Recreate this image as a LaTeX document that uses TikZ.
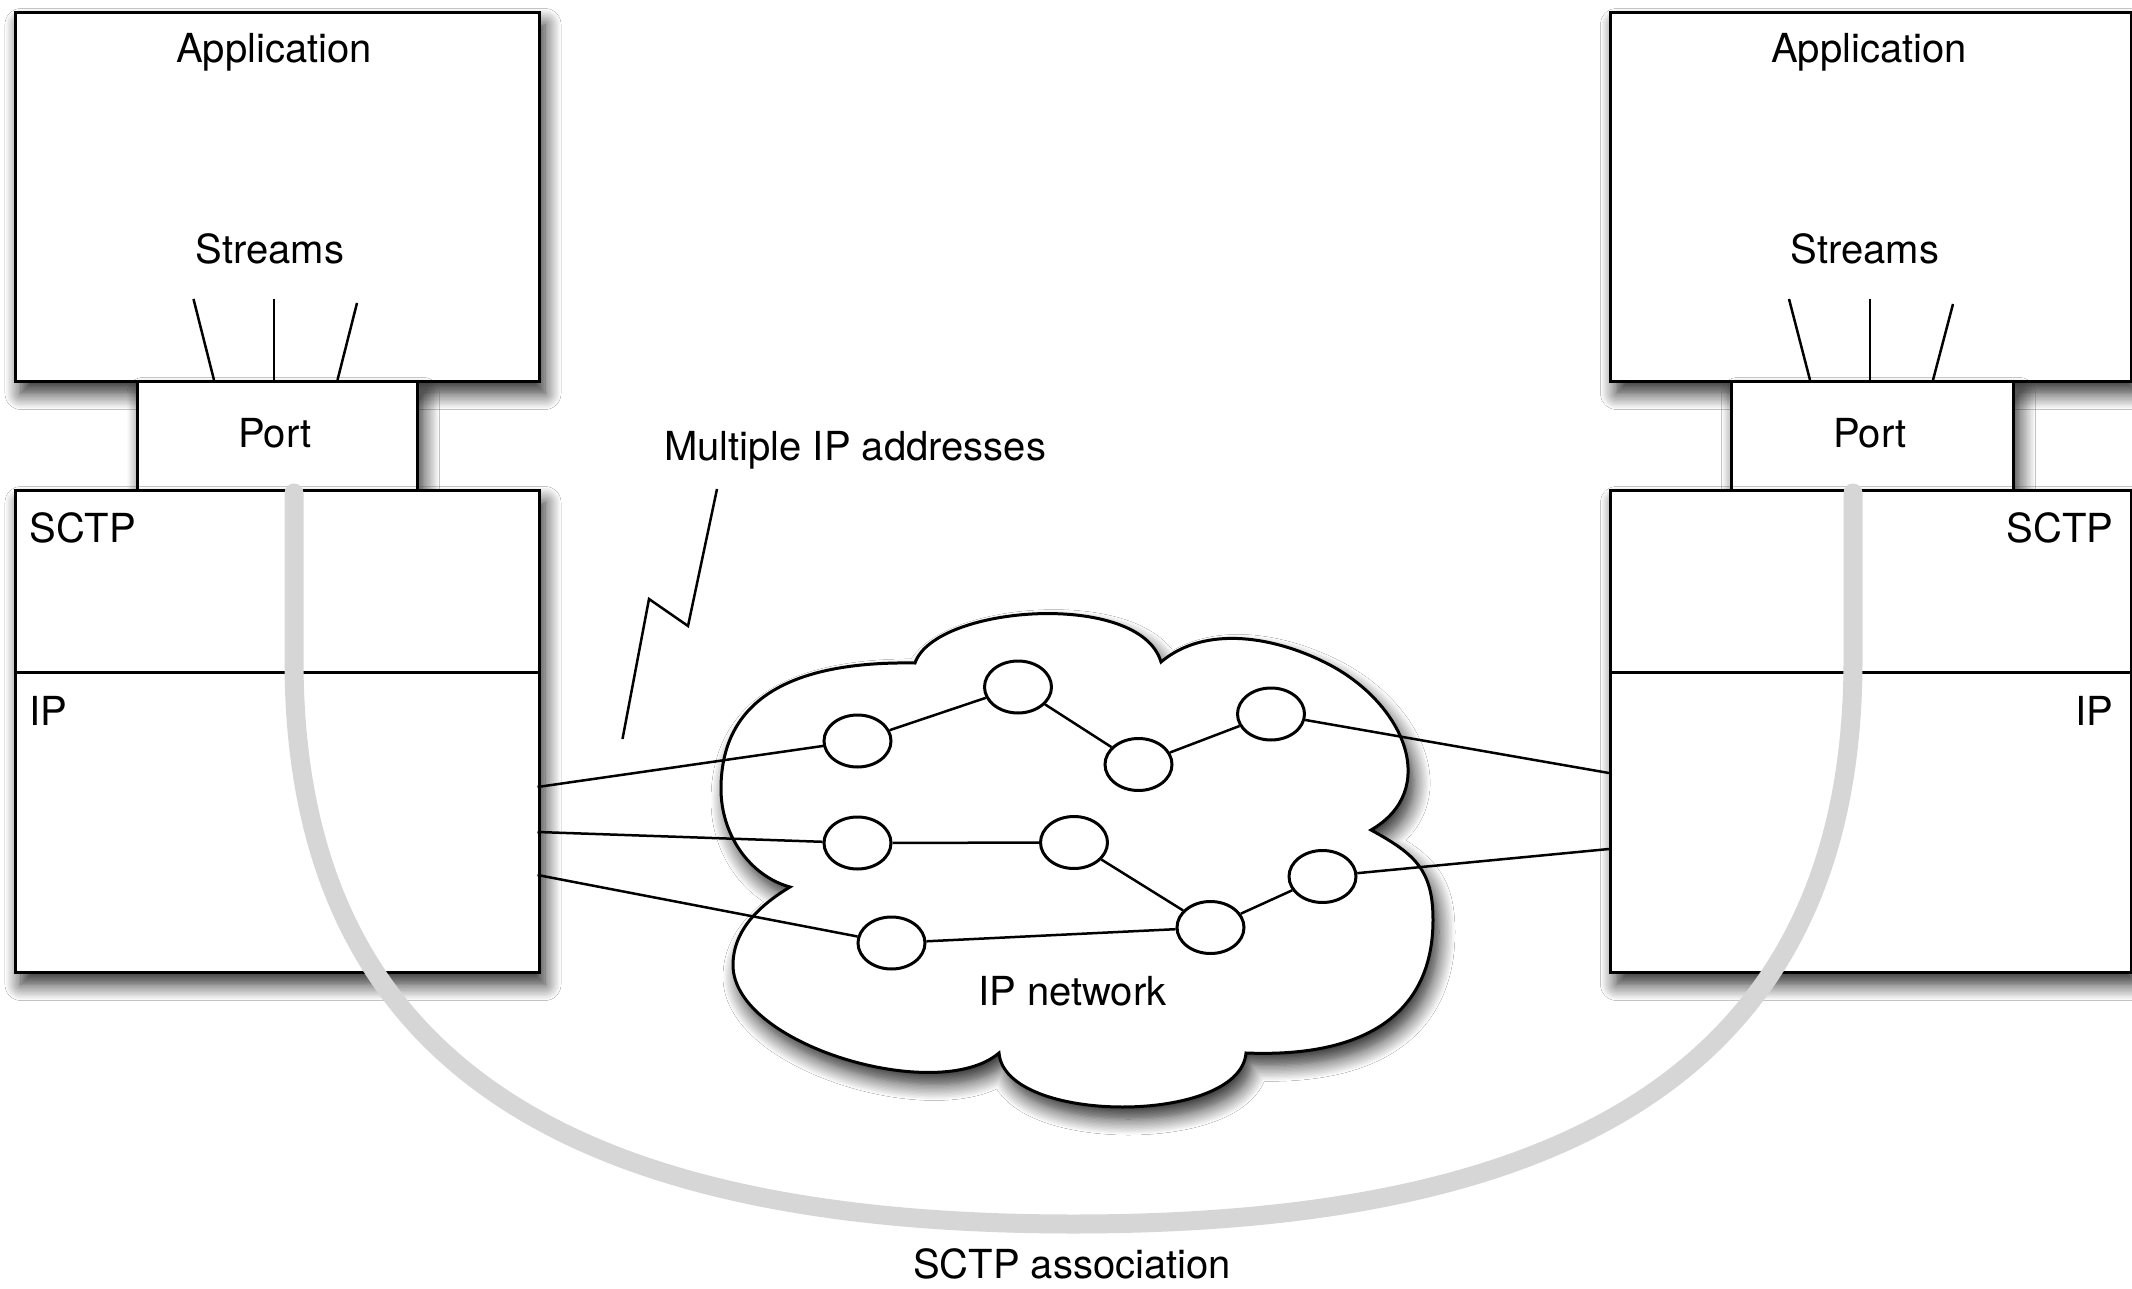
\documentclass[tikz,border=0pt]{standalone}
\usepackage{fontspec}
\setmainfont{TeX Gyre Heros}
\usetikzlibrary{shapes.geometric,shadows.blur}
\definecolor{assocgray}{HTML}{D6D6D6}
\tikzset{
  dropshadow/.style={blur shadow={shadow xshift=3pt, shadow yshift=-6pt,
      shadow blur radius=8pt, shadow opacity=85, shadow blur steps=12}},
  layer/.style={draw=black, fill=white, line width=1.5pt, inner sep=0pt,
      anchor=north west, dropshadow},
  router/.style={ellipse, draw=black, fill=white, line width=1.5pt,
      minimum width=33.5pt, minimum height=26pt, inner sep=0pt},
  link/.style={line width=1.25pt},
  lbl/.style={inner sep=0pt, font=\fontsize{20pt}{24pt}\selectfont},
  assoc/.style={draw=assocgray, line width=9.5pt, line cap=round},
}
\begin{document}
\begin{tikzpicture}[x=0.5pt, y=-0.5pt]
\useasboundingbox (0,0) rectangle (2132,1289);
\fill[white] (0,0) rectangle (2132,1289);

% ---------- left host ----------
\node[layer, minimum width=262pt, minimum height=184.5pt] (lapp) at (13.5,11) {};
\node[layer, minimum width=140.25pt, minimum height=54.5pt] (lport) at (135.5,380) {};
\node[layer, minimum width=262pt, minimum height=241pt] (lstack) at (13.5,489) {};
\draw[line width=1.5pt] (13.5,672.5) -- (537.5,672.5);

% ---------- right host ----------
\node[layer, minimum width=260.5pt, minimum height=184.5pt] (rapp) at (1609,11) {};
\node[layer, minimum width=141pt, minimum height=54.5pt] (rport) at (1730,380) {};
\node[layer, minimum width=260.5pt, minimum height=241pt] (rstack) at (1609,489) {};
\draw[line width=1.5pt] (1609,672.5) -- (2130,672.5);

% ---------- streams ----------
\coordinate (ls1a) at (193.5,299); \coordinate (ls1b) at (214,380);
\coordinate (ls2a) at (274,299);   \coordinate (ls2b) at (274,380);
\coordinate (ls3a) at (357,303);   \coordinate (ls3b) at (337.5,380);
\coordinate (rs1a) at (1789,299);  \coordinate (rs1b) at (1810,380);
\coordinate (rs2a) at (1870,299);  \coordinate (rs2b) at (1870,380);
\coordinate (rs3a) at (1953,304);  \coordinate (rs3b) at (1933,380);
\foreach \s in {ls1,ls2,ls3,rs1,rs2,rs3}
  \draw[link] (\s a) -- (\s b);

% ---------- IP network cloud ----------
\path[draw=black, fill=white, line width=1.5pt, dropshadow]
  (915,663)
  .. controls (935,605) and (1140,590) .. (1161,662)
  .. controls (1206,624) and (1277,637) .. (1330,665)
  .. controls (1405,705) and (1440,790) .. (1371,830)
  .. controls (1415,854) and (1433,870) .. (1433,920)
  .. controls (1433,1010) and (1370,1058) .. (1246,1053)
  .. controls (1240,1125) and (1005,1125) .. (999,1053)
  .. controls (938,1105) and (733,1045) .. (733,965)
  .. controls (733,930) and (760,905) .. (790,887)
  .. controls (750,876) and (721,835) .. (721,789)
  .. controls (721,700) and (790,661) .. (915,663)
  -- cycle;

% routers
\node[router] (A) at (857.5,741) {};
\node[router] (B) at (1018,687) {};
\node[router] (F) at (1138.5,764.5) {};
\node[router] (G) at (1271,714) {};
\node[router] (C) at (857.5,843) {};
\node[router] (D) at (1074,842.5) {};
\node[router] (E) at (891.5,943) {};
\node[router] (I) at (1210.5,927.5) {};
\node[router] (H) at (1322.5,876.5) {};

% interface ends on the hosts
\coordinate (l1) at (537.5,787);
\coordinate (l2) at (537.5,832);
\coordinate (l3) at (537.5,875);
\coordinate (r1) at (1609,773);
\coordinate (r2) at (1609,849);

% paths through the network
\draw[link] (l1) -- (A) -- (B) -- (F) -- (G) -- (r1);
\draw[link] (l2) -- (C) -- (D) -- (I) -- (H) -- (r2);
\draw[link] (l3) -- (E) -- (I);

% lightning pointer for the multiple addresses
\draw[link, line join=miter] (717,489) -- (688,626) -- (649,599) -- (622.5,739);

% ---------- SCTP association ----------
\coordinate (lstart) at (294,493);
\coordinate (rstart) at (1853,493);
\draw[assoc] (lstart) -- (294,660)
  .. controls (294,1065) and (573,1224) .. (1073.5,1224)
  .. controls (1574,1224) and (1853,1065) .. (1853,660) -- (rstart);

% ---------- labels ----------
\node[lbl, anchor=base] (tlapp) at (274,63) {Application};
\node[lbl, anchor=base] (tlstr) at (270,264) {Streams};
\node[lbl, anchor=base] (tlport) at (275,447) {Port};
\node[lbl, anchor=base west] (tlsctp) at (29,542) {SCTP};
\node[lbl, anchor=base west] (tlip) at (29,725) {IP};

\node[lbl, anchor=base] (trapp) at (1869,63) {Application};
\node[lbl, anchor=base] (trstr) at (1865,264) {Streams};
\node[lbl, anchor=base] (trport) at (1870,447) {Port};
\node[lbl, anchor=base east] (trsctp) at (2113.5,542) {SCTP};
\node[lbl, anchor=base east] (trip) at (2113.5,725) {IP};

\node[lbl, anchor=base] (tmulti) at (855,460) {Multiple IP addresses};
\node[lbl, anchor=base] (tnet) at (1072.5,1005.5) {IP network};
\node[lbl, anchor=base] (tassoc) at (1072,1278) {SCTP association};
\end{tikzpicture}
\end{document}
